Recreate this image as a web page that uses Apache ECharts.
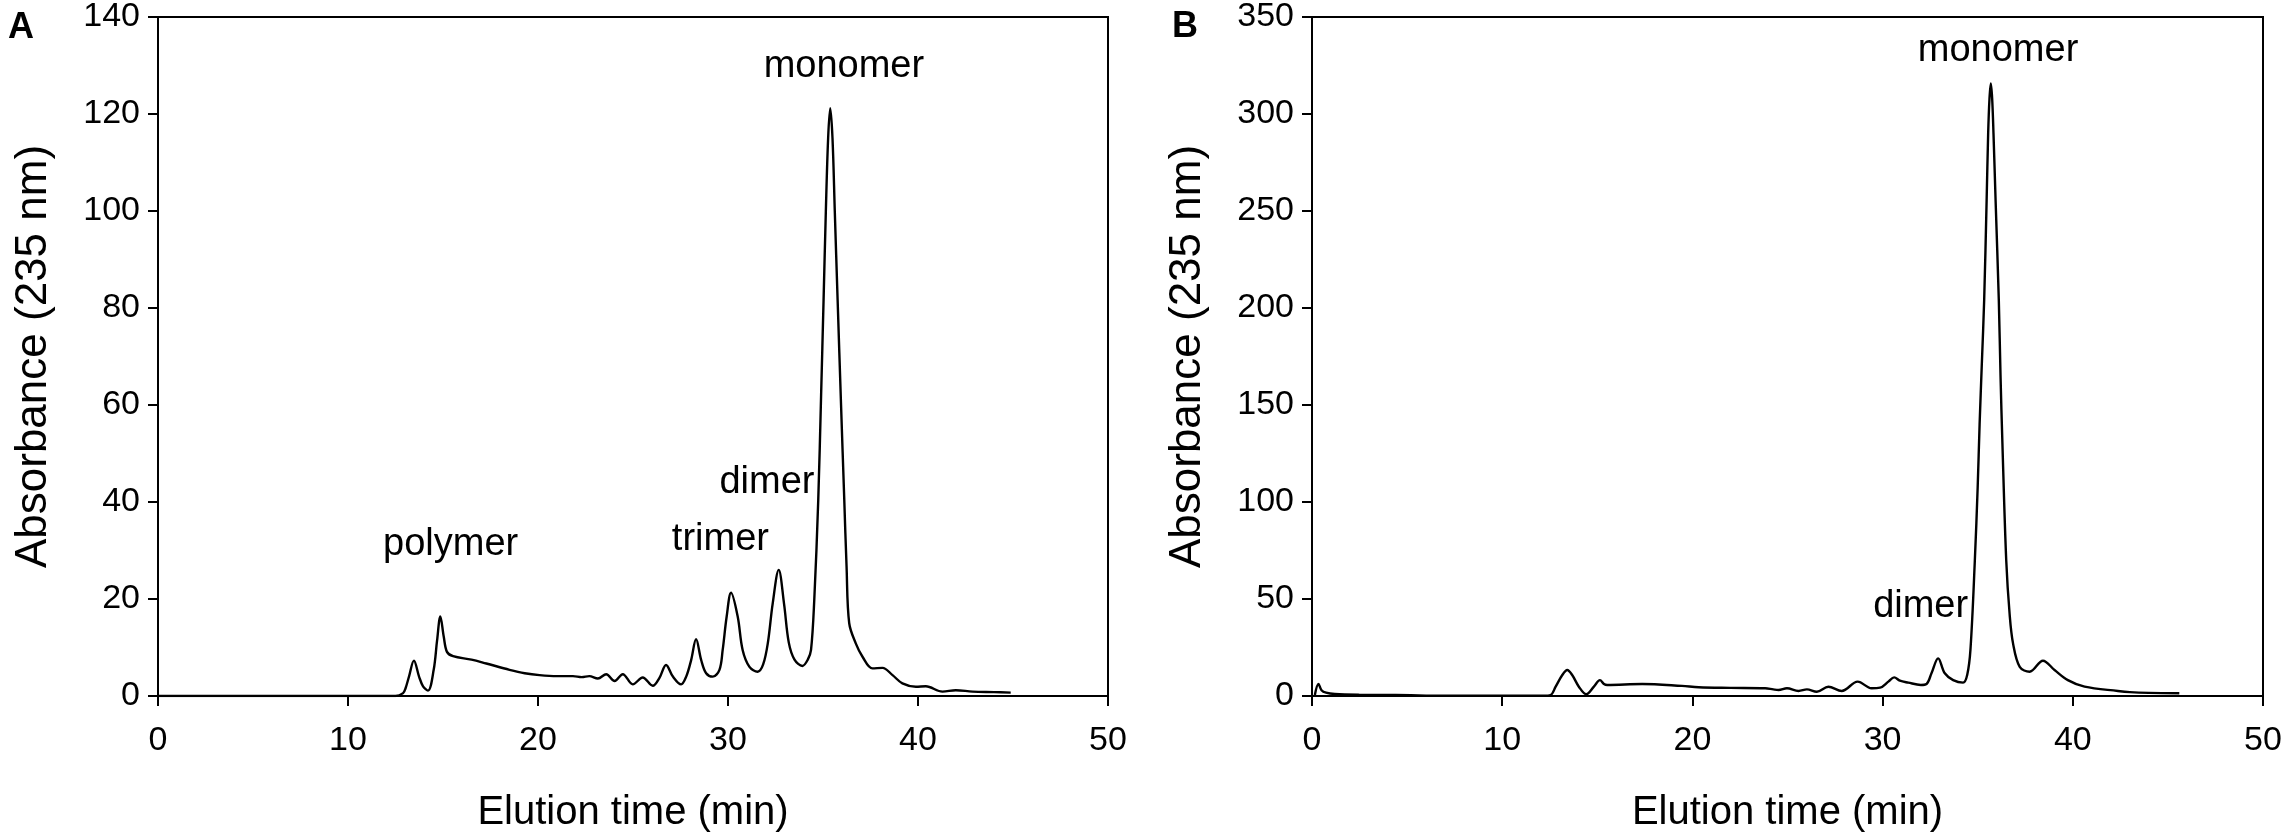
<!DOCTYPE html>
<html>
<head>
<meta charset="utf-8">
<script src="https://cdn.jsdelivr.net/npm/echarts@6/dist/echarts.min.js"></script>
<style>
  html, body { margin: 0; padding: 0; background: #fff; }
  #chart { width: 2288px; height: 840px; }
</style>
</head>
<body>
<div id="chart"></div>
<script>
// panel A: elution time (min) and absorbance
var timeA = [0, 12.5, 12.9, 13.03, 13.21, 13.47, 13.74, 13.95, 14.21, 14.51, 14.69, 14.86, 15.04, 15.21, 15.53,
  16.5, 17.28, 18.5, 19.3, 20.08, 21.0, 21.84, 22.3, 22.7, 23.15, 23.59, 24.03, 24.46, 24.99, 25.51, 26.04,
  26.4, 26.74, 27.1, 27.53, 27.8, 28.06, 28.32, 28.59, 28.85, 29.2, 29.55, 29.72, 29.93, 30.16, 30.51, 30.77,
  31.13, 31.56, 31.85, 32.1, 32.35, 32.67, 32.95, 33.2, 33.5, 33.92, 34.2, 34.37, 34.54, 34.75, 34.9, 35.03,
  35.15, 35.27, 35.38, 35.5, 35.62, 35.77, 35.95, 36.12, 36.24, 36.38, 36.73, 37.08, 37.6, 38.13, 38.66,
  39.18, 39.89, 40.41, 41.29, 41.99, 42.87, 44.0, 44.88];
var absA = [0, 0, 0.6, 1.6, 4.0, 7.3, 4.0, 2.0, 1.1, 5.4, 11.5, 16.4, 12.2, 9.1, 8.2,
  7.5, 6.7, 5.4, 4.7, 4.3, 4.1, 4.1, 3.9, 4.1, 3.6, 4.5, 3.1, 4.5, 2.4, 3.8, 2.1,
  3.8, 6.4, 4.0, 2.4, 4.0, 7.4, 11.7, 7.4, 4.7, 4.0, 5.4, 9.5, 16.4, 21.3, 16.4, 9.5,
  6.0, 5.0, 6.5, 11, 19, 26.0, 19, 11, 7.5, 6.2, 7.5, 9.5, 19.8, 40.4, 62, 81.6,
  100, 115, 121.2, 115, 100, 81.6, 60, 40.4, 26.7, 15.0, 10.8, 8.1, 5.7, 5.8, 4.3,
  2.6, 1.9, 2.0, 0.9, 1.2, 0.9, 0.8, 0.7];

// panel B
var timeB = [0.15, 0.34, 0.5, 0.74, 1.2, 2.5, 4.4, 6.0, 8.0, 12.2, 12.55, 12.81, 13.16, 13.42, 13.68, 14.03,
  14.42, 14.82, 15.14, 15.35, 15.52, 17.36, 19.45, 20.33, 22.0, 23.83, 24.25, 24.53, 24.97, 25.58, 26.02,
  26.54, 27.15, 27.85, 28.69, 29.42, 29.87, 30.3, 30.61, 30.91, 31.35, 32.01, 32.31, 32.57, 32.92, 33.27,
  33.71, 34.23, 34.45, 34.62, 34.85, 35.0, 35.1, 35.22, 35.34, 35.47, 35.55, 35.62, 35.69, 35.76, 35.83, 35.94,
  36.11, 36.2, 36.3, 36.5, 36.68, 36.86, 37.21, 37.73, 38.43, 39.04, 39.74, 40.62, 42.37, 43.0, 44.0, 45.6];
var absB = [0.5, 6.2, 3.0, 1.7, 1.0, 0.6, 0.5, 0.2, 0.1, 0.1, 0.5, 4.8, 10.8, 13.4, 10.8, 4.8,
  0.9, 4.8, 8.2, 6.2, 5.7, 6.2, 5.2, 4.5, 4.2, 4.0, 3.4, 3.1, 4.0, 2.6, 3.4,
  2.2, 4.8, 2.6, 7.4, 4.0, 4.3, 7.4, 9.6, 7.9, 6.9, 5.7, 6.2, 11.7, 19.4, 11.7,
  8.2, 6.9, 11, 24, 70, 108, 140, 172, 204, 255.7, 290, 308, 315.8, 308, 290, 255.7,
  204, 165, 130, 70, 42, 27, 15, 12.5, 18.2, 13.4, 8.2, 4.8, 2.6, 2.0, 1.6, 1.4];

var xTicks = [0, 10, 20, 30, 40, 50];
var yTicksA = [0, 20, 40, 60, 80, 100, 120, 140];
var yTicksB = [0, 50, 100, 150, 200, 250, 300, 350];

// peak labels: [text, time, absorbance]
var labelsA = [['polymer', 15.4, 31.2], ['trimer', 29.6, 32.2], ['dimer', 32.05, 44.0], ['monomer', 36.1, 129.7]];
var labelsB = [['dimer', 32.0, 46.0], ['monomer', 36.07, 332.5]];

var FONT = '"Liberation Sans", Arial, sans-serif';

function zip(xs, ys) {
  var out = [];
  for (var i = 0; i < xs.length; i++) out.push([xs[i], ys[i]]);
  return out;
}

function peakMarks(list) {
  return {
    symbol: 'circle',
    symbolSize: 0,
    silent: true,
    label: {
      show: true, position: 'inside', color: '#000',
      fontFamily: FONT, fontSize: 38,
      formatter: function (p) { return p.name; }
    },
    data: list.map(function (l) { return { name: l[0], coord: [l[1], l[2]] }; })
  };
}

function xAxisCfg(idx) {
  return {
    gridIndex: idx, type: 'value',
    min: xTicks[0], max: xTicks[xTicks.length - 1], interval: 10,
    name: 'Elution time (min)', nameLocation: 'middle', nameGap: 97,
    nameTextStyle: { color: '#000', fontFamily: FONT, fontSize: 40 },
    axisLine: { show: true, onZero: false, lineStyle: { color: '#000', width: 2 } },
    axisTick: { show: true, length: 10, lineStyle: { color: '#000', width: 2 } },
    axisLabel: { color: '#000', fontFamily: FONT, fontSize: 34, margin: 28 },
    splitLine: { show: false }
  };
}

function yAxisCfg(idx, ticks) {
  return {
    gridIndex: idx, type: 'value',
    min: ticks[0], max: ticks[ticks.length - 1], interval: ticks[1] - ticks[0],
    name: 'Absorbance (235 nm)', nameLocation: 'middle', nameGap: 102,
    nameTextStyle: { color: '#000', fontFamily: FONT, fontSize: 44 },
    axisLine: { show: true, lineStyle: { color: '#000', width: 2 } },
    axisTick: { show: true, length: 10, lineStyle: { color: '#000', width: 2 } },
    axisLabel: { color: '#000', fontFamily: FONT, fontSize: 34, margin: 18 },
    splitLine: { show: false }
  };
}

var chart = echarts.init(document.getElementById('chart'), null, { renderer: 'canvas' });

var option = {
  animation: false,
  backgroundColor: '#fff',
  title: [
    { text: 'A', left: 3, top: 5, textStyle: { fontFamily: FONT, fontWeight: 'bold', fontSize: 36, color: '#000' } },
    { text: 'B', left: 1167, top: 4, textStyle: { fontFamily: FONT, fontWeight: 'bold', fontSize: 36, color: '#000' } }
  ],
  grid: [
    { left: 158, top: 17, width: 950, height: 679, show: true, borderColor: '#000', borderWidth: 2, backgroundColor: 'transparent' },
    { left: 1312, top: 17, width: 951, height: 679, show: true, borderColor: '#000', borderWidth: 2, backgroundColor: 'transparent' }
  ],
  xAxis: [xAxisCfg(0), xAxisCfg(1)],
  yAxis: [yAxisCfg(0, yTicksA), yAxisCfg(1, yTicksB)],
  series: [
    {
      type: 'line', xAxisIndex: 0, yAxisIndex: 0,
      data: zip(timeA, absA),
      showSymbol: false, smooth: 0.35,
      lineStyle: { color: '#000', width: 2.4 },
      markPoint: peakMarks(labelsA)
    },
    {
      type: 'line', xAxisIndex: 1, yAxisIndex: 1,
      data: zip(timeB, absB),
      showSymbol: false, smooth: 0.35,
      lineStyle: { color: '#000', width: 2.4 },
      markPoint: peakMarks(labelsB)
    }
  ]
};

chart.setOption(option);
</script>
</body>
</html>
